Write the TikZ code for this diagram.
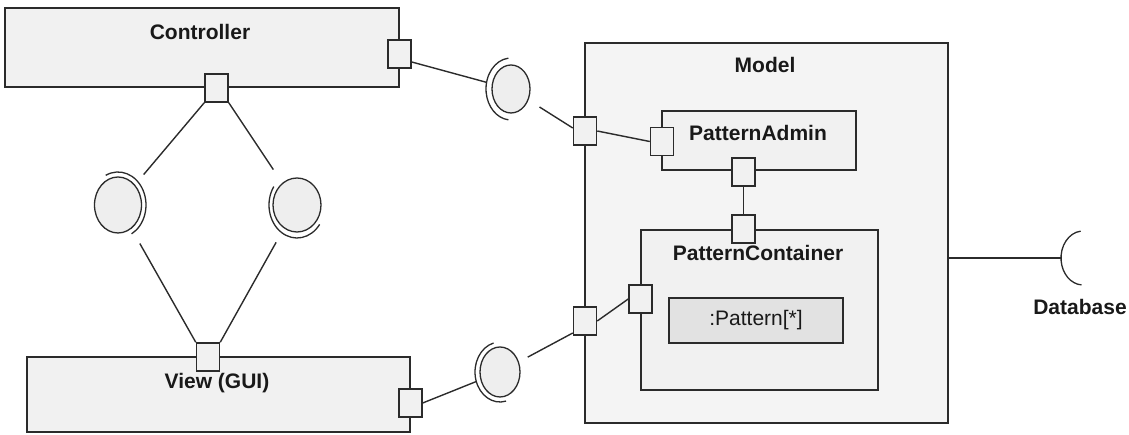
\documentclass[tikz,border=0pt]{standalone}
\usepackage{fontspec}
\setmainfont{Liberation Sans}
\usetikzlibrary{shapes.geometric,fit,calc}

\definecolor{edge}{HTML}{2B2B2B}
\definecolor{boxfill}{HTML}{F1F1F1}
\definecolor{outerfill}{HTML}{F4F4F4}
\definecolor{partfill}{HTML}{E2E2E2}
\definecolor{ballfill}{HTML}{EEEEEE}

\tikzset{
  compbox/.style={draw=edge, line width=1.6pt, fill=boxfill, inner sep=0pt},
  modelbox/.style={compbox, fill=outerfill},
  partbox/.style={compbox, fill=partfill},
  portbox/.style={draw=edge, line width=1.5pt, fill=boxfill, inner sep=0pt,
    minimum width=23pt, minimum height=28pt},
  title/.style={font=\fontsize{21}{25}\selectfont\bfseries, text=black!90, inner sep=0pt},
  plain/.style={font=\fontsize{21}{25}\selectfont, text=black!90, inner sep=0pt},
  ball/.style={ellipse, draw=edge, line width=1.3pt, fill=ballfill, inner sep=0pt},
  sockzone/.style={ellipse, inner sep=0pt},
  sockarc/.style={draw=edge, line width=1.3pt},
  wire/.style={draw=edge, line width=1.4pt},
}

\begin{document}
\begin{tikzpicture}[x=1pt, y=1pt]
\useasboundingbox (0,0) rectangle (1129,435);

% ---------- components ----------
\node[compbox, fit={(5,348) (399,427)}] (ctrl) {};
\node[title] (ctrltxt) at (200,403) {Controller};

\node[compbox, fit={(27,3) (410,78)}] (view) {};
\node[title] (viewtxt) at (217,52) {View (GUI)};

\node[modelbox, fit={(585,12) (948,392)}] (model) {};
\node[title] (modeltxt) at (765,370) {Model};

\node[compbox, fit={(662,265) (856,324)}] (padmin) {};
\node[title] (padmintxt) at (758,302) {PatternAdmin};

\node[compbox, fit={(641,45) (878,205)}] (pcont) {};
\node[title] (pconttxt) at (758,182) {PatternContainer};

\node[partbox, fit={(669,92) (843,137)}] (pattern) {};
\node[plain] (patterntxt) at (756,115) {:Pattern[*]};

% ---------- ports ----------
\node[portbox] (cR)  at (399.5,381) {};
\node[portbox] (cB)  at (216.5,347) {};
\node[portbox] (vT)  at (208,78) {};
\node[portbox] (vR)  at (410.5,32) {};
\node[portbox] (mU)  at (585,304) {};
\node[portbox] (mL)  at (585,114) {};
\node[portbox] (paL) at (662,293.5) {};
\node[portbox] (paB) at (743.5,263) {};
\node[portbox] (pcT) at (743.5,206) {};
\node[portbox] (pcL) at (640.5,136) {};

% ---------- provided / required interfaces ----------
% left pair
\node[ball, minimum width=47pt, minimum height=56pt] (bL) at (118,230) {};
\node[sockzone, minimum width=56pt, minimum height=66pt] (sL) at (118,230) {};
\draw[sockarc] ($(sL.center)+(116:28pt and 33pt)$) arc[start angle=116, end angle=-61, x radius=28pt, y radius=33pt];

\node[ball, minimum width=48pt, minimum height=54pt] (bR) at (297,230) {};
\node[sockzone, minimum width=56pt, minimum height=66pt] (sR) at (297,230) {};
\draw[sockarc] ($(sR.center)+(146:28pt and 33pt)$) arc[start angle=146, end angle=324, x radius=28pt, y radius=33pt];

% controller -> model
\node[ball, minimum width=38pt, minimum height=48pt] (bT) at (511,346) {};
\node[sockzone, minimum width=50pt, minimum height=62pt] (sT) at (511,346) {};
\draw[sockarc] ($(sT.center)+(96:25pt and 31pt)$) arc[start angle=96, end angle=264, x radius=25pt, y radius=31pt];

% view -> model
\node[ball, minimum width=40pt, minimum height=50pt] (bB) at (500,63) {};
\node[sockzone, minimum width=50pt, minimum height=60pt] (sB) at (500,63) {};
\draw[sockarc] ($(sB.center)+(105:25pt and 30pt)$) arc[start angle=105, end angle=284, x radius=25pt, y radius=30pt];

% database socket
\node[sockzone, minimum width=44pt, minimum height=54pt] (sD) at (1083,177) {};
\draw[sockarc] ($(sD.center)+(96:22pt and 27pt)$) arc[start angle=96, end angle=266, x radius=22pt, y radius=27pt];
\node[title] (dbtxt) at (1080,128) {Database};

% ---------- connectors ----------
\draw[wire] ([yshift=-8pt]cR.east) -- (sT);
\draw[wire, shorten <=13pt] (bT) -- ([yshift=3pt]mU.west);
\draw[wire] (mU.east) -- (paL.west);
\draw[wire] (paB.south) -- (pcT.north);

\draw[wire, shorten >=9pt]  (cB.south west) -- (sL);
\draw[wire, shorten >=16pt] (cB.south east) -- (bR);
\draw[wire, shorten >=17pt] (vT.north west) -- (bL);
\draw[wire, shorten >=11pt] (vT.north east) -- (sR);

\draw[wire] (vR.east) -- (sB);
\draw[wire, shorten <=10pt] (bB) -- ([yshift=-12pt]mL.west);
\draw[wire] (mL.east) -- (pcL.west);

\draw[wire] (sD.west -| model.east) -- (sD.west);
\end{tikzpicture}
\end{document}
